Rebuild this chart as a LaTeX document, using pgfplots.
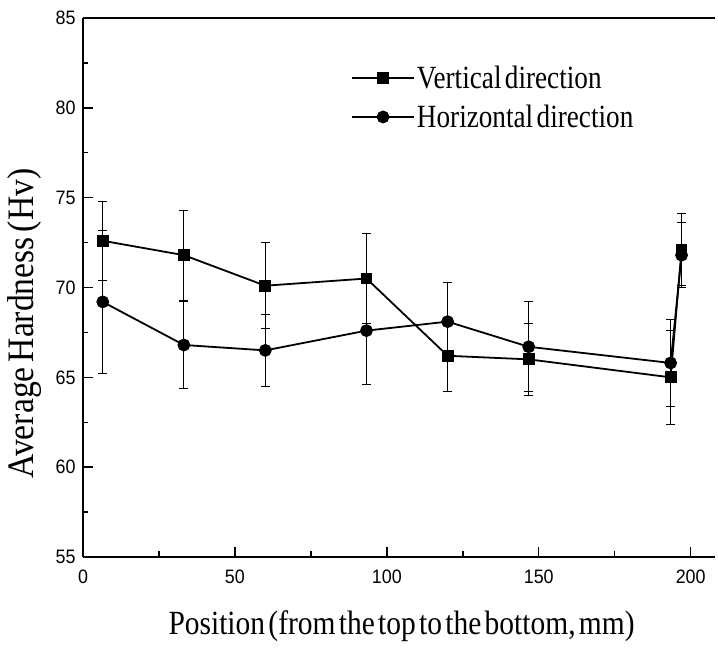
\documentclass[border=0pt]{standalone}
\usepackage{fontspec}
\setmainfont{Liberation Serif}
\newfontfamily\arialfont[FakeStretch=0.92]{Liberation Sans}
\newfontfamily\legfont[FakeStretch=0.84, WordSpace=0.5]{Liberation Serif}
\newfontfamily\xlabfont[FakeStretch=0.87, WordSpace=0.45]{Liberation Serif}
\newfontfamily\ylabfont[FakeStretch=0.9, WordSpace=0.6]{Liberation Serif}
\usepackage{pgfplots}
\pgfplotsset{compat=1.18}
\begin{document}
\begin{tikzpicture}
\begin{axis}[
  at={(0,0)}, anchor=south west,
  scale only axis,
  width=632bp, height=539bp,
  xmin=0, xmax=208, ymin=55, ymax=85,
  axis x line=bottom, axis y line=left,
  axis line style={-, line width=2bp, black},
  xtick={0,50,100,150,200}, minor xtick={25,75,125,175},
  ytick={55,60,65,70,75,80,85}, minor ytick={57.5,62.5,67.5,72.5,77.5,82.5},
  tick align=inside,
  major tick length=10bp, minor tick length=5.5bp,
  every tick/.style={black, line width=1.4bp},
  /pgf/number format/assume math mode=true,
  tick label style={font=\arialfont\fontsize{19.5}{21}\selectfont, black},
  xticklabel style={yshift=-9bp},
  yticklabel style={xshift=-4bp},
  xlabel={Position (from the top to the bottom, mm)},
  ylabel={Average Hardness (Hv)},
  every axis x label/.style={at={(axis description cs:0.504,0)}, anchor=base, yshift=-77bp, font=\xlabfont\fontsize{34}{36}\selectfont},
  every axis y label/.style={at={(axis description cs:-0.092,0.433)}, anchor=center, rotate=90, font=\ylabfont\fontsize{37.5}{40}\selectfont},
  legend style={draw=none, fill=none, at={(axis description cs:0.424,0.915)}, anchor=north west,
    font=\legfont\fontsize{32.5}{34}\selectfont, row sep=11bp, inner sep=0pt, nodes={inner sep=2bp}},
  legend cell align=left,
  legend image code/.code={\draw[mark repeat=2,mark phase=2] plot coordinates {(0bp,0bp) (31bp,0bp) (62bp,0bp)};},
  clip=false,
]
\draw[line width=2bp] (rel axis cs:0,1) -- (rel axis cs:1,1);
\addplot[black, line width=1.8bp, mark=square*, mark size=5bp,
  error bars/.cd, y dir=both, y explicit,
  error bar style={line width=0.8bp, black},
  error mark options={rotate=90, mark size=4.5bp, line width=0.8bp, black}]
  coordinates {
  (6.5,72.6) +- (0,2.2)
  (33.2,71.8) +- (0,2.5)
  (60,70.1) +- (0,2.4)
  (93.3,70.5) +- (0,2.5)
  (120,66.2) +- (0,2.0)
  (146.7,66.0) +- (0,2.0)
  (193.4,65.0) +- (0,2.6)
  (197,72.1) +- (0,2.0)
  };
\addlegendentry{Vertical direction}
\addplot[black, line width=1.8bp, mark=*, mark size=5.5bp,
  error bars/.cd, y dir=both, y explicit,
  error bar style={line width=0.8bp, black},
  error mark options={rotate=90, mark size=4.5bp, line width=0.8bp, black}]
  coordinates {
  (6.5,69.2) +- (0,4.0)
  (33.2,66.8) +- (0,2.4)
  (60,66.5) +- (0,2.0)
  (93.3,67.6) +- (0,3.0)
  (120,68.1) +- (0,2.2)
  (146.7,66.7) +- (0,2.5)
  (193.4,65.8) +- (0,2.4)
  (197,71.8) +- (0,1.8)
  };
\addlegendentry{Horizontal direction}
\end{axis}
\pgfresetboundingbox
\path[use as bounding box] (-83bp,-92bp) rectangle (635bp,557bp);
\end{tikzpicture}
\end{document}
